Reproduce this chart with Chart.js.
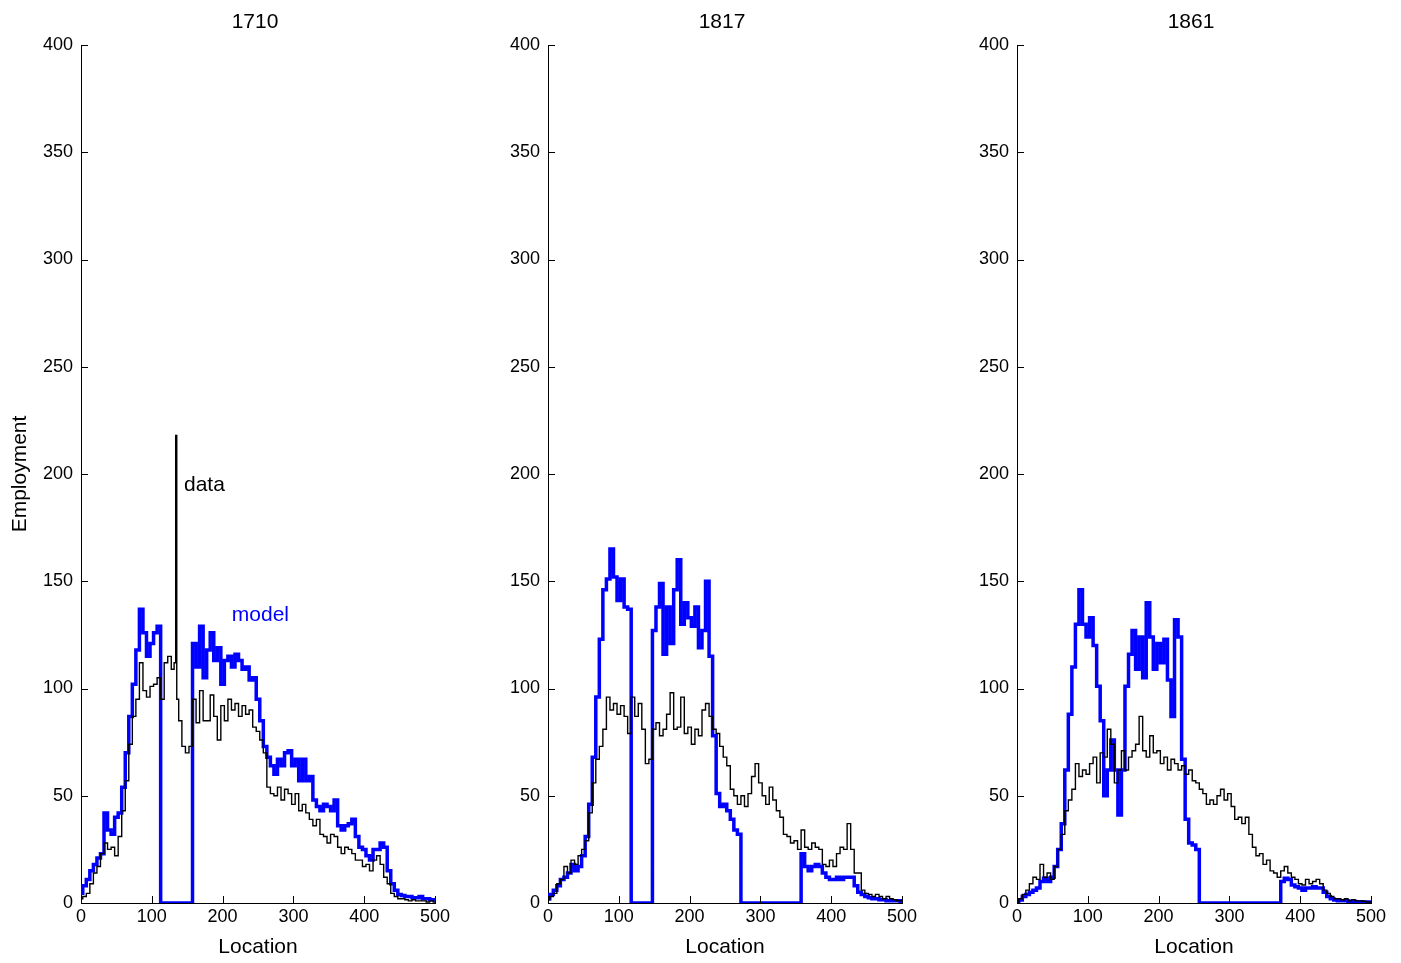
<!DOCTYPE html>
<html>
<head>
<meta charset="utf-8">
<script src="https://cdn.jsdelivr.net/npm/chart.js@4/dist/chart.umd.min.js"></script>
<style>
  body { margin: 0; background: #fff; }
  canvas { position: absolute; top: 0; }
</style>
</head>
<body>
<canvas id="c1710" width="460" height="963" style="left:0px"></canvas>
<canvas id="c1817" width="460" height="963" style="left:467px"></canvas>
<canvas id="c1861" width="460" height="963" style="left:936px"></canvas>
<script>
// Locations (x), every 5th cell
const locations = [
  0, 5, 10, 15, 20, 25, 30, 35, 40, 45, 50, 55, 60, 65, 70, 75, 80, 85, 90, 95,
  100, 105, 110, 115, 120, 125, 130, 135, 140, 145, 150, 155, 160, 165, 170, 175, 180, 185, 190, 195,
  200, 205, 210, 215, 220, 225, 230, 235, 240, 245, 250, 255, 260, 265, 270, 275, 280, 285, 290, 295,
  300, 305, 310, 315, 320, 325, 330, 335, 340, 345, 350, 355, 360, 365, 370, 375, 380, 385, 390, 395,
  400, 405, 410, 415, 420, 425, 430, 435, 440, 445, 450, 455, 460, 465, 470, 475, 480, 485, 490, 495, 500
];
// 1710 data has a one-cell spike, so a finer grid round it
const locations1710data = [
  0, 5, 10, 15, 20, 25, 30, 35, 40, 45, 50, 55, 60, 65, 70, 75, 80, 85, 90, 95,
  100, 105, 110, 115, 120, 125, 130, 133, 134.5, 136, 140, 145, 150, 155, 160, 165, 170, 175, 180, 185, 190, 195,
  200, 205, 210, 215, 220, 225, 230, 235, 240, 245, 250, 255, 260, 265, 270, 275, 280, 285, 290, 295,
  300, 305, 310, 315, 320, 325, 330, 335, 340, 345, 350, 355, 360, 365, 370, 375, 380, 385, 390, 395,
  400, 405, 410, 415, 420, 425, 430, 435, 440, 445, 450, 455, 460, 465, 470, 475, 480, 485, 490, 495, 500
];
const xTicks = [0, 100, 200, 300, 400, 500];
const yTicks = [0, 50, 100, 150, 200, 250, 300, 350, 400];
const years = ['1710', '1817', '1861'];

// 1710
const data1710 = [
  2, 3, 4.5, 9, 14, 17, 23, 28, 25, 26,
  22, 31, 43, 57, 74, 87, 95, 112, 99, 96,
  101, 102, 105, 95, 112, 115, 109, 112, 218, 95, 85, 73,
  70, 73, 95, 84, 99, 85, 85, 97, 87, 76,
  92, 85, 95, 90, 93, 87, 92, 88, 90, 82,
  80, 76, 70, 54, 51, 50, 54, 48, 53, 51,
  46, 51, 43, 46, 42, 39, 36, 39, 32, 31,
  28, 32, 31, 26, 23, 26, 25, 23, 20, 20,
  17, 18, 15, 20, 22, 18, 12, 9, 4.5, 3,
  2, 2, 1.5, 1, 1.5, 1, 1, 1, 0.5, 1, 0.5
];
const model1710 = [
  4.5, 8, 11, 15, 18, 21, 23, 42, 34, 32,
  40, 42, 54, 70, 87, 102, 118, 137, 126, 115,
  121, 126, 129, 0, 0, 0, 0, 0, 0, 0,
  0, 0, 121, 110, 129, 105, 118, 126, 113, 119,
  102, 113, 115, 110, 116, 113, 109, 110, 104, 105,
  95, 85, 73, 68, 64, 60, 67, 64, 70, 71,
  64, 67, 57, 67, 57, 59, 48, 45, 43, 46,
  45, 43, 48, 36, 34, 36, 37, 39, 31, 26,
  25, 22, 20, 25, 25, 28, 26, 15, 9, 6,
  4, 3.5, 3, 3, 2.5, 2.5, 3, 2, 2, 1.5, 1.5
];

// 1817
const data1817 = [
  1.5, 3, 4.5, 9, 11, 17, 14, 20, 18, 22,
  25, 29, 42, 56, 67, 73, 81, 96, 90, 93,
  88, 92, 87, 79, 96, 87, 93, 81, 65, 67,
  81, 84, 78, 81, 88, 98, 81, 82, 96, 79,
  82, 74, 81, 78, 90, 93, 87, 81, 79, 73,
  68, 64, 53, 50, 46, 50, 45, 51, 59, 65,
  56, 50, 46, 54, 48, 43, 40, 32, 31, 28,
  29, 25, 34, 26, 25, 28, 26, 25, 18, 17,
  20, 17, 23, 26, 25, 37, 25, 14, 14, 6,
  4.5, 4, 3, 4, 3, 2, 3, 2, 1.5, 1, 1
];
const model1817 = [
  2, 4, 6, 8, 11, 12, 14, 18, 15, 17,
  22, 31, 46, 68, 96, 123, 146, 151, 165, 152,
  141, 151, 138, 137, 0, 0, 0, 0, 0, 0,
  127, 138, 149, 116, 138, 121, 146, 160, 130, 140,
  133, 129, 138, 119, 127, 150, 115, 78, 51, 45,
  46, 43, 39, 34, 32, 0, 0, 0, 0, 0,
  0, 0, 0, 0, 0, 0, 0, 0, 0, 0,
  0, 0, 23, 17, 15, 17, 18, 17, 14, 12,
  11, 11, 12, 11, 12, 12, 12, 8, 5, 4,
  3, 2.5, 2, 2, 1.5, 1.5, 1, 1, 1, 1, 0.5
];

// 1861
const data1861 = [
  0.5, 2, 4, 6, 9, 12, 11, 18, 12, 14,
  11, 17, 25, 32, 43, 48, 53, 65, 59, 62,
  60, 65, 68, 56, 70, 68, 81, 74, 56, 62,
  71, 62, 68, 71, 74, 87, 71, 68, 78, 70,
  71, 65, 68, 62, 67, 65, 62, 64, 60, 62,
  57, 56, 53, 51, 46, 48, 46, 50, 53, 48,
  51, 45, 39, 40, 37, 40, 32, 26, 22, 23,
  18, 20, 15, 14, 12, 15, 17, 14, 12, 11,
  9, 8.4, 11, 9, 10, 11, 9, 6, 4.5, 3,
  2, 2, 1.5, 2, 1, 1.5, 1, 1, 0.8, 0.5, 0.5
];
const model1861 = [
  0.5, 1.4, 3, 4, 5, 6, 7, 10, 11.5, 10,
  12, 17, 25, 37, 62, 88, 110, 130, 146, 130,
  124, 133, 120, 101, 85, 50, 62, 76, 62, 41,
  62, 101, 116, 127, 109, 124, 105, 140, 124, 109,
  121, 112, 123, 104, 87, 132, 124, 67, 39, 28,
  27, 25, 0, 0, 0, 0, 0, 0, 0, 0,
  0, 0, 0, 0, 0, 0, 0, 0, 0, 0,
  0, 0, 0, 0, 0, 10, 11.5, 11, 8.4, 7.6,
  7, 6, 7, 7, 7.6, 7, 7, 5, 3, 2,
  1.4, 1, 1, 1, 0.8, 0.8, 0.6, 0.6, 0.5, 0.5, 0.3
];

const FONT = 'Liberation Sans, Arial, sans-serif';

function points(values, xs) {
  return values.map((v, i) => ({x: xs[i], y: v}));
}

// inward tick marks, panel title and text notes
const decor = {
  id: 'decor',
  afterDraw(chart, args, opts) {
    const {ctx, chartArea} = chart;
    const x = chart.scales.x, y = chart.scales.y;
    ctx.save();
    ctx.strokeStyle = '#000';
    ctx.lineWidth = 1;
    yTicks.forEach(t => {
      let py = Math.round(y.getPixelForValue(t)) + 0.5;
      ctx.beginPath();
      ctx.moveTo(chartArea.left, py);
      ctx.lineTo(chartArea.left + 7, py);
      ctx.stroke();
    });
    xTicks.forEach(t => {
      let px = Math.round(x.getPixelForValue(t)) + 0.5;
      ctx.beginPath();
      ctx.moveTo(px, chartArea.bottom);
      ctx.lineTo(px, chartArea.bottom - 7);
      ctx.stroke();
    });
    ctx.fillStyle = '#000';
    ctx.font = '21px ' + FONT;
    ctx.textAlign = 'center';
    ctx.textBaseline = 'middle';
    ctx.fillText(opts.title, (chartArea.left + chartArea.right) / 2 - 3, 22);
    (opts.notes || []).forEach(n => {
      ctx.fillStyle = n.color;
      ctx.font = '21px ' + FONT;
      ctx.textAlign = 'left';
      ctx.fillText(n.text, x.getPixelForValue(n.x), y.getPixelForValue(n.y));
    });
    ctx.restore();
  }
};

function makeChart(id, year, dataVals, dataXs, modelVals, first) {
  const ctx = document.getElementById(id).getContext('2d');
  return new Chart(ctx, {
    type: 'line',
    data: {
      datasets: [
        {
          label: 'data',
          data: points(dataVals, dataXs),
          borderColor: '#000000',
          borderWidth: 1.4,
          pointRadius: 0,
          stepped: 'middle',
          order: 0
        },
        {
          label: 'model',
          data: points(modelVals, locations),
          borderColor: '#0000ff',
          borderWidth: 3.5,
          pointRadius: 0,
          stepped: 'middle',
          order: 1
        }
      ]
    },
    options: {
      responsive: false,
      animation: false,
      devicePixelRatio: 1,
      layout: {padding: {top: 45, right: 25, bottom: 0, left: 0}},
      plugins: {
        legend: {display: false},
        tooltip: {enabled: false},
        decor: {
          title: year,
          notes: first ? [
            {text: 'data', x: 145.5, y: 195, color: '#000000'},
            {text: 'model', x: 213, y: 134, color: '#0000ff'}
          ] : []
        }
      },
      scales: {
        x: {
          type: 'linear',
          min: 0,
          max: 500,
          afterFit: s => { s.height = 60; },
          afterBuildTicks: s => { s.ticks = xTicks.map(v => ({value: v})); },
          grid: {display: true, drawOnChartArea: false, drawTicks: false},
          border: {display: true, color: '#000', width: 1},
          ticks: {color: '#000', font: {family: FONT, size: 18}, padding: 3, maxRotation: 0, autoSkip: false},
          title: {display: true, text: 'Location', color: '#000', font: {family: FONT, size: 21}, padding: {top: 0, bottom: 3}}
        },
        y: {
          type: 'linear',
          min: 0,
          max: 400,
          afterFit: s => { s.width = 81; },
          afterBuildTicks: s => { s.ticks = yTicks.map(v => ({value: v})); },
          grid: {display: true, drawOnChartArea: false, drawTicks: false},
          border: {display: true, color: '#000', width: 1},
          ticks: {color: '#000', font: {family: FONT, size: 18}, padding: 8, autoSkip: false},
          title: {display: first, text: 'Employment', color: '#000', font: {family: FONT, size: 21}, padding: {top: 8, bottom: 0}}
        }
      }
    },
    plugins: [decor]
  });
}

makeChart('c1710', years[0], data1710, locations1710data, model1710, true);
makeChart('c1817', years[1], data1817, locations, model1817, false);
makeChart('c1861', years[2], data1861, locations, model1861, false);
</script>
</body>
</html>
